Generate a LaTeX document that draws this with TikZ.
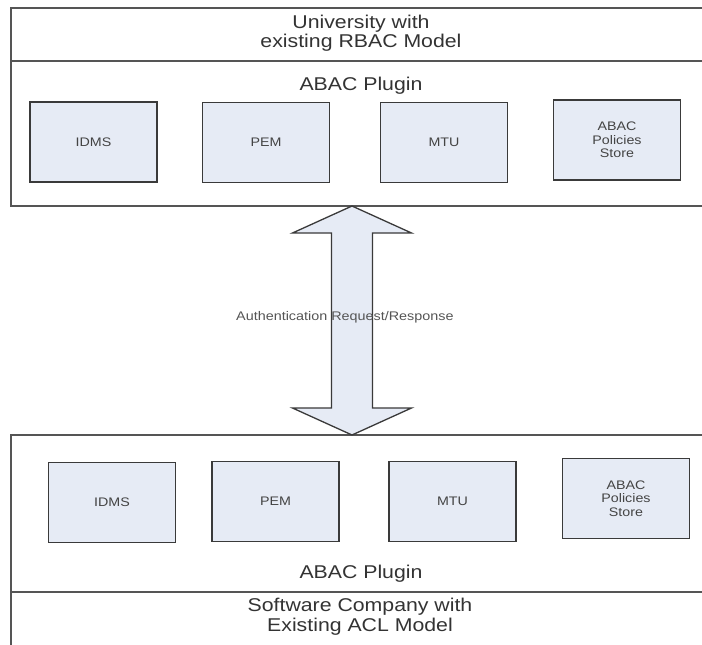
\documentclass[tikz,border=0pt]{standalone}
\usepackage{fontspec}
\setmainfont{Liberation Sans}
\newfontfamily\diafont[FakeStretch=1.15]{Liberation Sans}
\usetikzlibrary{calc}
\definecolor{boxfill}{HTML}{E6EBF5}
\definecolor{boxline}{HTML}{3A3A3A}
\definecolor{frameline}{HTML}{555555}
\definecolor{txt}{HTML}{333333}
\definecolor{smalltxt}{HTML}{444444}
\definecolor{linktxt}{HTML}{555555}

\begin{document}
\begin{tikzpicture}[x=1pt,y=-1pt,
  frame/.style={draw=frameline,line width=1.4pt,anchor=north west,
    minimum width=709pt,inner sep=0pt,outer sep=0pt},
  comp/.style={draw=boxline,fill=boxfill,line width=1.3pt,
    minimum width=127pt,minimum height=80pt,inner sep=0pt,
    font=\diafont\fontsize{12.4}{13.5}\selectfont,text=smalltxt,align=center},
  title/.style={font=\diafont\fontsize{18.5}{20}\selectfont,text=txt,
    inner sep=0pt,anchor=base},
  link/.style={draw=boxline,fill=boxfill,line width=1.3pt,line join=miter},
  linklabel/.style={font=\diafont\fontsize{12.5}{14}\selectfont,text=linktxt,
    inner sep=0pt,anchor=base west},
  ]
\useasboundingbox (0,0) rectangle (702,645);
\clip (0,0) rectangle (702,645);
\fill[white] (0,0) rectangle (702,645);

% university side
\node[frame,minimum height=53pt]  (univ)    at (11,8)  {};
\node[frame,minimum height=145pt] (uniplug) at (11,61) {};
\node[title] (univA) at (361,28.3) {University with};
\node[title] (univB) at (361,47.7) {existing RBAC Model};
\node[title] (uniplugT) at (361,90) {ABAC Plugin};

\node[comp] (uIDMS) at (93.5,142)  {IDMS};
\node[comp] (uPEM)  at (266,142.5) {PEM};
\node[comp] (uMTU)  at (444,142.5) {MTU};
\node[comp] (uAPS)  at (617,140)   {ABAC\\Policies\\Store};

% software company side
\node[frame,minimum height=157pt] (swplug) at (11,435) {};
\node[frame,minimum height=70pt]  (swco)   at (11,592) {};
\node[title] (swplugT) at (361,578) {ABAC Plugin};
\node[title] (swcoA) at (360,611.7) {Software Company with};
\node[title] (swcoB) at (360,631)   {Existing ACL Model};

\node[comp] (sIDMS) at (112,502.5)   {IDMS};
\node[comp] (sPEM)  at (275.5,501.5) {PEM};
\node[comp] (sMTU)  at (452.5,501.5) {MTU};
\node[comp] (sAPS)  at (626,498.5)   {ABAC\\Policies\\Store};

% two-headed block arrow between the two plugins
\coordinate (upTip) at ($(uniplug.south west)+(341,0)$);
\coordinate (dnTip) at ($(swplug.north west)+(341,0)$);
\draw[link]
  (upTip) -- ++(59.5,27) -- ++(-39,0)
  -- ($(dnTip)+(20.5,-27)$) -- ++(39,0) -- (dnTip)
  -- ++(-59.5,-27) -- ++(39,0)
  -- ($(upTip)+(-20.5,27)$) -- ++(-39,0) -- cycle;
\node[linklabel] (authlbl) at (236,320) {Authentication Request/Response};
\end{tikzpicture}
\end{document}
